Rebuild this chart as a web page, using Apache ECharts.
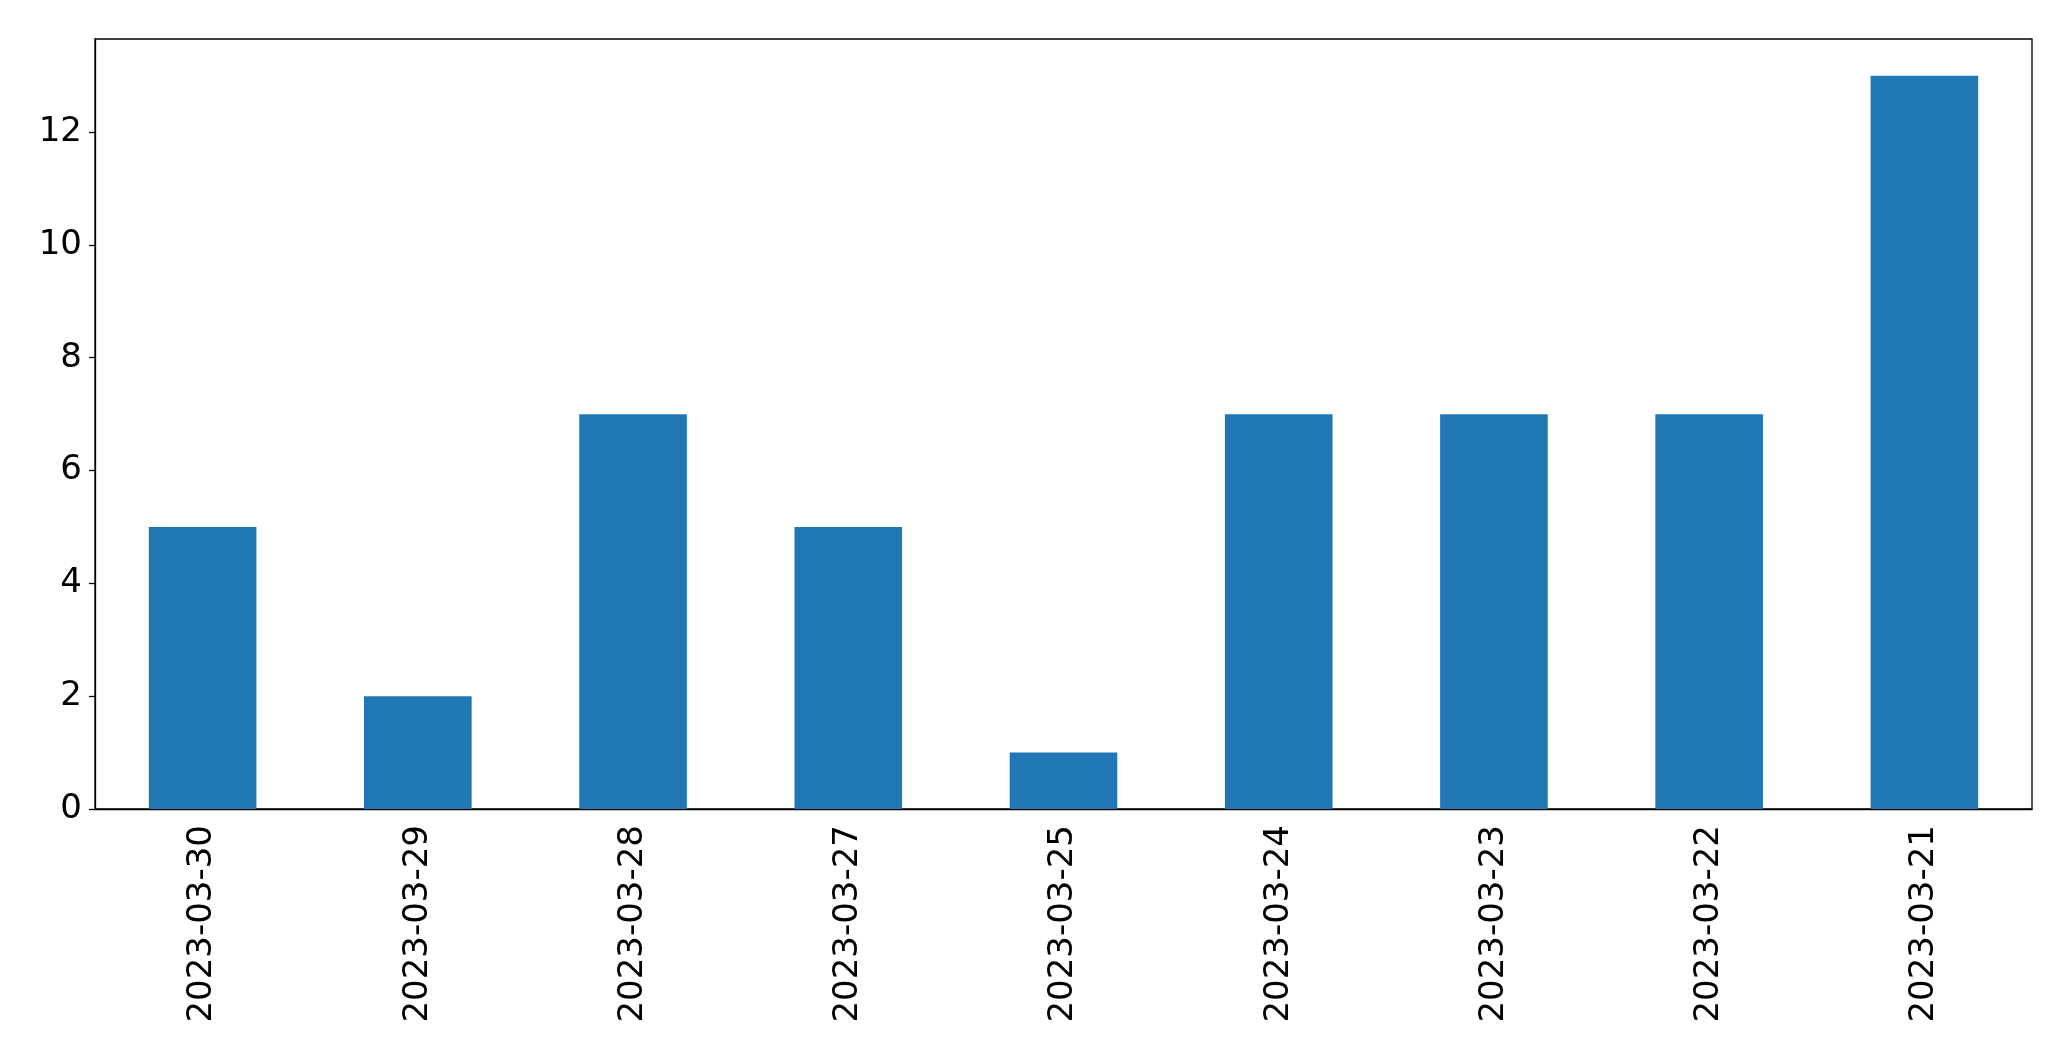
<!DOCTYPE html>
<html>
<head>
<meta charset="utf-8">
<script src="https://cdn.jsdelivr.net/npm/echarts@6/dist/echarts.min.js"></script>
<style>html,body{margin:0;padding:0;background:#fff}#c{width:2071px;height:1061px}</style>
</head>
<body>
<div id="c"></div>
<script>
const categories = ["2023-03-30","2023-03-29","2023-03-28","2023-03-27","2023-03-25","2023-03-24","2023-03-23","2023-03-22","2023-03-21"];
const values = [5, 2, 7, 5, 1, 7, 7, 7, 13];
const yTicks = [0, 2, 4, 6, 8, 10, 12];

const chart = echarts.init(document.getElementById('c'), null, {renderer: 'canvas'});
const font = 'DejaVu Sans';
chart.setOption({
  animation: false,
  grid: {left: 95, right: 39, top: 39, bottom: 252, show: true, borderColor: '#000', borderWidth: 1.3, backgroundColor: 'transparent'},
  xAxis: {
    type: 'category',
    data: categories,
    axisLine: {lineStyle: {color: '#000', width: 1.3}},
    axisTick: {alignWithLabel: true, length: 6, lineStyle: {color: '#000', width: 1.3}},
    axisLabel: {rotate: 90, margin: 16, color: '#000', fontSize: 34, fontFamily: font}
  },
  yAxis: {
    type: 'value',
    min: 0, max: 13.65,
    splitLine: {show: false},
    axisLine: {show: true, lineStyle: {color: '#000', width: 1.3}},
    axisTick: {show: true, length: 6, lineStyle: {color: '#000', width: 1.3}, customValues: yTicks},
    axisLabel: {margin: 13, color: '#000', fontSize: 34, fontFamily: font, customValues: yTicks}
  },
  series: [{
    type: 'bar',
    data: values,
    barWidth: '50%',
    itemStyle: {color: '#1f77b4'}
  }]
});
</script>
</body>
</html>
